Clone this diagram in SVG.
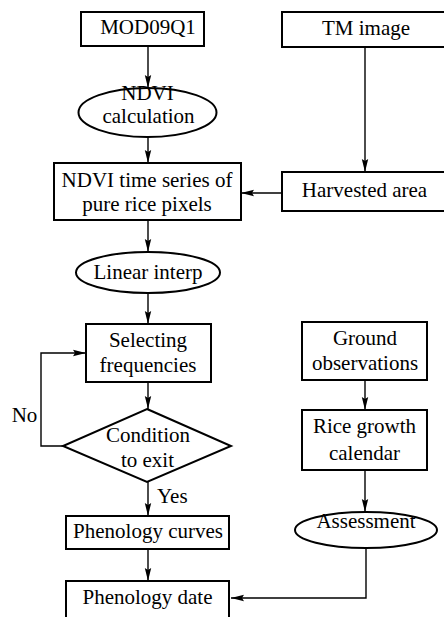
<svg xmlns="http://www.w3.org/2000/svg" width="444" height="617" viewBox="0 0 444 617" font-family="'Liberation Serif', 'DejaVu Serif', serif">
<style>
.box{fill:#fff;stroke:#000;stroke-width:2}
.t{font-family:'Liberation Serif','DejaVu Serif',serif;font-size:21px;fill:#000;text-anchor:middle}
.c{fill:none;stroke:#000;stroke-width:1.4}
</style>
<defs>
<marker id="ah" markerUnits="userSpaceOnUse" markerWidth="14" markerHeight="8" refX="13" refY="4" orient="auto">
<path d="M0,0.8 L13,4 L0,7.2 L2,4 z" fill="#000"/>
</marker>
</defs>
<rect width="444" height="617" fill="#fff"/>
<g id="connectors">
<path class="c" d="M148,46 V88" marker-end="url(#ah)"/>
<path class="c" d="M148,137 V163" marker-end="url(#ah)"/>
<path class="c" d="M365,48 V172" marker-end="url(#ah)"/>
<path class="c" d="M282,193 H241" marker-end="url(#ah)"/>
<path class="c" d="M148,220 V252" marker-end="url(#ah)"/>
<path class="c" d="M148,293 V324" marker-end="url(#ah)"/>
<path class="c" d="M148,382 V409" marker-end="url(#ah)"/>
<path class="c" d="M63,446 H41 V353 H86" marker-end="url(#ah)"/>
<path class="c" d="M148,482 V516" marker-end="url(#ah)"/>
<path class="c" d="M148,549 V581" marker-end="url(#ah)"/>
<path class="c" d="M365,380 V410" marker-end="url(#ah)"/>
<path class="c" d="M365,470 V512" marker-end="url(#ah)"/>
<path class="c" d="M366,548 V598 H231" marker-end="url(#ah)"/>
<text class="t" x="24.5" y="422">No</text>
<text class="t" x="157" y="503" style="text-anchor:start">Yes</text>
</g>
<g id="mod09q1"><rect class="box" x="81" y="12" width="123" height="34"/><text class="t" x="148" y="34">MOD09Q1</text></g>
<g id="tm"><rect class="box" x="282" y="12" width="172" height="35"/><text class="t" x="366" y="35">TM image</text></g>
<g id="ndvicalc"><ellipse class="box" cx="147.5" cy="112.5" rx="69" ry="24.5"/><text class="t" x="147.5" y="100">NDVI</text><text class="t" x="148.5" y="123">calculation</text></g>
<g id="ndvits"><rect class="box" x="54" y="163" width="187" height="57"/><text class="t" x="147" y="187">NDVI time series of</text><text class="t" x="147" y="211">pure rice pixels</text></g>
<g id="harvested"><rect class="box" x="282" y="172" width="172" height="39"/><text class="t" x="364.5" y="197">Harvested area</text></g>
<g id="linear"><ellipse class="box" cx="148" cy="272.5" rx="72" ry="20.5"/><text class="t" x="148" y="279">Linear interp</text></g>
<g id="selecting"><rect class="box" x="86" y="324" width="125" height="58"/><text class="t" x="148" y="347">Selecting</text><text class="t" x="148" y="372">frequencies</text></g>
<g id="condition"><polygon class="box" points="147,409 231,446 147,482 63,446"/><text class="t" x="148" y="442">Condition</text><text class="t" x="147.5" y="467">to exit</text></g>
<g id="ground"><rect class="box" x="302" y="322" width="125" height="58"/><text class="t" x="365" y="345">Ground</text><text class="t" x="365" y="370">observations</text></g>
<g id="rice"><rect class="box" x="302" y="410" width="125" height="60"/><text class="t" x="364.5" y="433">Rice growth</text><text class="t" x="364.5" y="460">calendar</text></g>
<g id="assessment"><ellipse class="box" cx="366" cy="530" rx="71" ry="18"/><text class="t" x="366" y="528">Assessment</text></g>
<g id="curves"><rect class="box" x="66" y="516" width="163" height="33"/><text class="t" x="148" y="538">Phenology curves</text></g>
<g id="date"><rect class="box" x="66" y="581" width="163" height="44"/><text class="t" x="147.5" y="604">Phenology date</text></g>
</svg>
